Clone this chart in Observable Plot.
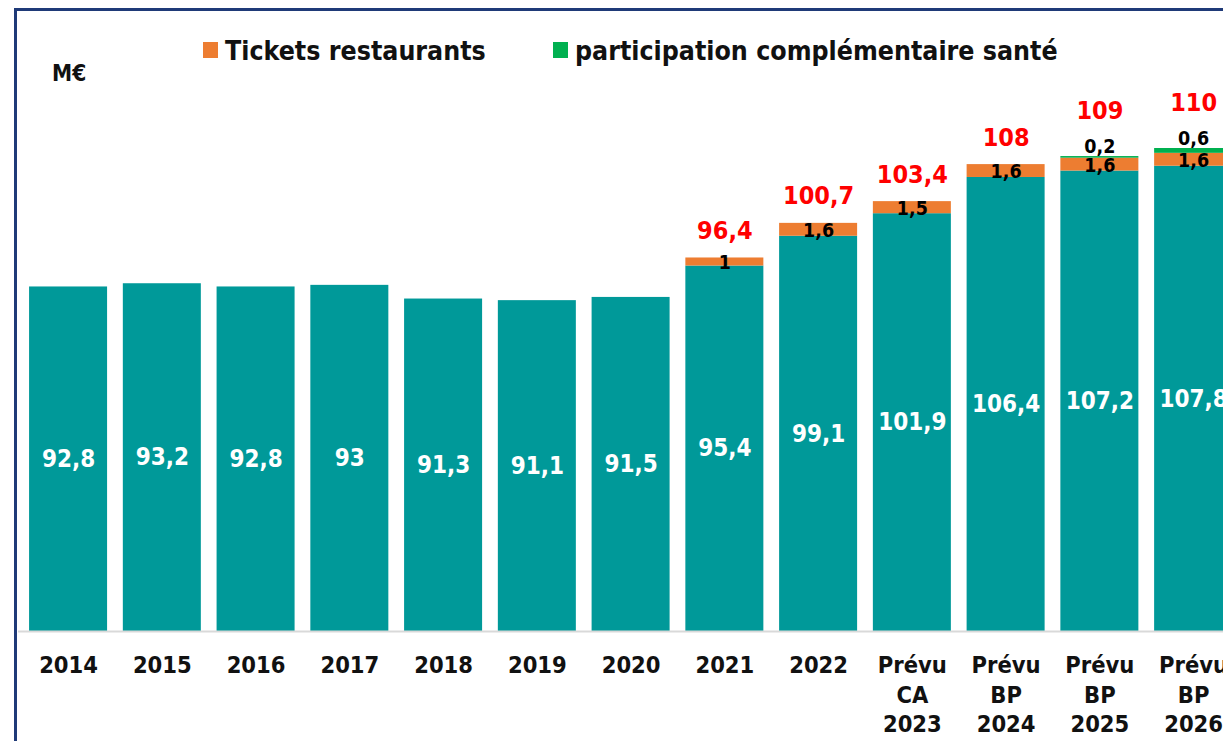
<!DOCTYPE html>
<html>
<head>
<meta charset="utf-8">
<script src="https://cdn.jsdelivr.net/npm/d3@7"></script>
<script src="https://cdn.jsdelivr.net/npm/@observablehq/plot@0.6"></script>
<style>
  html, body { margin: 0; padding: 0; background: #fff; overflow: hidden; width: 1223px; height: 741px; }
  body { position: relative; font-family: "DejaVu Sans Condensed", "DejaVu Sans", sans-serif; font-weight: bold; }
  #chart { position: absolute; left: 0; top: 0; }
  #frame { position: absolute; left: 14px; top: 8px; width: 1400px; height: 900px; border: 3px solid #1F3A78; box-sizing: border-box; pointer-events: none; z-index: 5; }
  .leg { position: absolute; top: 33px; height: 34px; display: flex; align-items: center; font-size: 26.5px; color: #111; white-space: nowrap; }
  .sw { width: 15px; height: 16px; margin-right: 7px; }
  #unit { position: absolute; left: 52px; top: 60px; font-size: 22.5px; color: #111; }
</style>
</head>
<body>
<div id="chart"></div>
<div id="frame"></div>
<div id="unit">M€</div>
<div id="legend"></div>
<script>
const categories = ["2014","2015","2016","2017","2018","2019","2020","2021","2022","Prévu\nCA\n2023","Prévu\nBP\n2024","Prévu\nBP\n2025","Prévu\nBP\n2026"];
const baseValues = [92.8, 93.2, 92.8, 93, 91.3, 91.1, 91.5, 95.4, 99.1, 101.9, 106.4, 107.2, 107.8];
const ticketValues = [null, null, null, null, null, null, null, 1, 1.6, 1.5, 1.6, 1.6, 1.6];
const santeValues = [null, null, null, null, null, null, null, null, null, null, null, 0.2, 0.6];
const totalValues = [null, null, null, null, null, null, null, 96.4, 100.7, 103.4, 108, 109, 110];
const seriesNames = ["Tickets restaurants", "participation complémentaire santé"];
const colors = { base: "#009999", tickets: "#ED7D31", sante: "#00B050" };
const yMin = 50, yMax = 120;

const fr = v => String(v).replace(".", ",");

const rows = categories.map((c, i) => {
  const b = baseValues[i], t = ticketValues[i] || 0, s = santeValues[i] || 0;
  return { cat: c, base: b, tickets: ticketValues[i], sante: santeValues[i], total: totalValues[i],
           t0: b, t1: b + t, s0: b + t, s1: b + t + s };
});

const FONT = '"DejaVu Sans Condensed", "DejaVu Sans", sans-serif';

const plot = Plot.plot({
  width: 1250,
  height: 741,
  marginLeft: 18,
  marginRight: 0,
  marginTop: 0,
  marginBottom: 0,
  style: { maxWidth: "none", background: "transparent", fontFamily: FONT, overflow: "visible" },
  x: { type: "band", domain: categories, range: [21.2, 1240], paddingInner: 0.168, paddingOuter: 0.084, align: 0.5, round: false, axis: null },
  y: { domain: [yMin, yMax], range: [631, 631 - (yMax - yMin) * 8.05], axis: null },
  marks: [
    Plot.barY(rows, { x: "cat", y1: () => yMin, y2: "base", fill: colors.base }),
    Plot.barY(rows.filter(d => d.tickets), { x: "cat", y1: "t0", y2: "t1", fill: colors.tickets }),
    Plot.barY(rows.filter(d => d.sante), { x: "cat", y1: "s0", y2: "s1", fill: colors.sante }),
    Plot.ruleY([yMin], { stroke: "#D9D9D9", strokeWidth: 2 }),
    Plot.text(rows, { x: "cat", y: d => (yMin + d.base) / 2, text: d => fr(d.base), fill: "white", fontSize: 24, fontWeight: "bold", fontFamily: FONT }),
    Plot.text(rows.filter(d => d.tickets), { x: "cat", y: d => (d.t0 + d.t1) / 2, dy: 1, text: d => fr(d.tickets), fill: "#000", fontSize: 19.5, fontWeight: "bold", fontFamily: FONT }),
    Plot.text(rows.filter(d => d.sante), { x: "cat", y: "s1", dy: -10, text: d => fr(d.sante), fill: "#000", fontSize: 19.5, fontWeight: "bold", fontFamily: FONT }),
    Plot.text(rows.filter(d => d.total && !d.sante), { x: "cat", y: "s1", dy: -27, text: d => fr(d.total), fill: "#FF0000", fontSize: 25, fontWeight: "bold", fontFamily: FONT }),
    Plot.text(rows.filter(d => d.total && d.sante), { x: "cat", y: "s1", dy: -46, text: d => fr(d.total), fill: "#FF0000", fontSize: 25, fontWeight: "bold", fontFamily: FONT }),
    Plot.text(categories, { x: d => d, y: () => yMin, dy: 21, lineAnchor: "top", lineHeight: 1.255, text: d => d, fill: "#111", fontSize: 23.5, fontWeight: "bold", fontFamily: FONT })
  ]
});
document.getElementById("chart").appendChild(plot);

const legend = document.getElementById("legend");
const legendItems = [
  { name: seriesNames[0], color: colors.tickets, left: 203 },
  { name: seriesNames[1], color: colors.sante, left: 553 }
];
legendItems.forEach(it => {
  const el = document.createElement("div");
  el.className = "leg";
  el.style.left = it.left + "px";
  const sw = document.createElement("span");
  sw.className = "sw";
  sw.style.background = it.color;
  el.appendChild(sw);
  el.appendChild(document.createTextNode(it.name));
  legend.appendChild(el);
});
</script>
</body>
</html>
